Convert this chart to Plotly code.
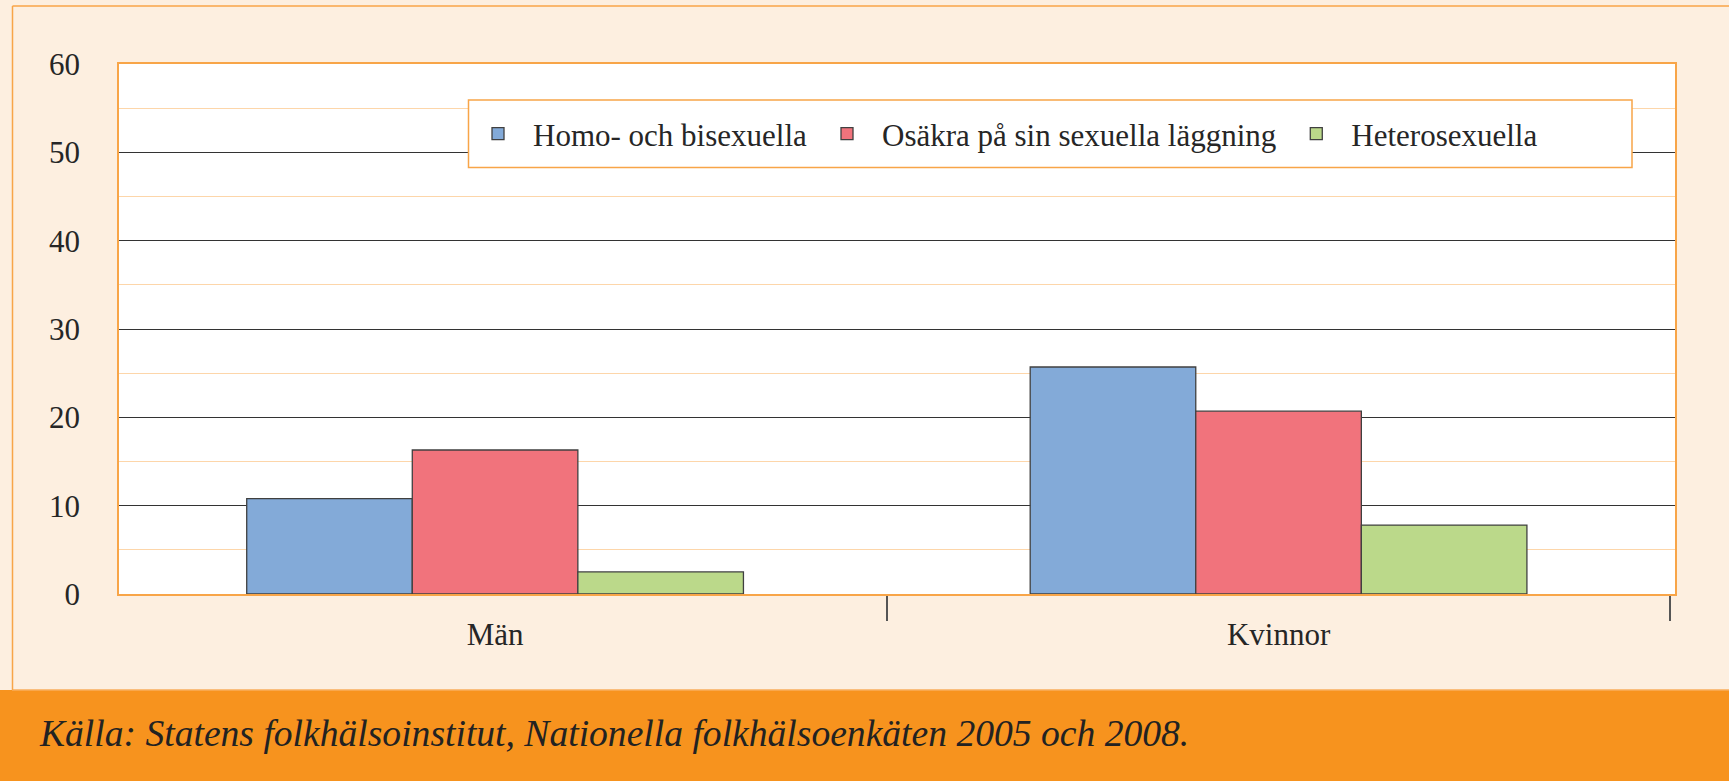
import plotly.graph_objects as go

# ---- data ----
categories = ["Män", "Kvinnor"]
series_names = ["Homo- och bisexuella", "Osäkra på sin sexuella läggning", "Heterosexuella"]
homo_bi = [10.8, 25.7]
osakra = [16.3, 20.7]
hetero = [2.5, 7.8]
y_tickvals = [0, 10, 20, 30, 40, 50, 60]
y_minor_vals = [5, 15, 25, 35, 45, 55]
source_text = "Källa: Statens folkhälsoinstitut, Nationella folkhälsoenkäten 2005 och 2008."

# ---- style ----
W, H = 1729, 781
L, R, T, B = 119, 54, 64, 187
CREAM = "#FDEFE0"
ORANGE_LINE = "#F8A548"
ORANGE_BAND = "#F7931E"
MINOR_GRID = "#FDD6AA"
TXT = "#262626"
FONT = "Liberation Serif"
colors = ["#83AAD8", "#F1737C", "#BBD98A"]

pw = W - L - R
ph = H - T - B


def px(x):
    return (x - L) / pw


def py(y):
    return (H - B - y) / ph


fig = go.Figure()
for name, vals, col in zip(series_names, [homo_bi, osakra, hetero], colors):
    fig.add_trace(go.Bar(
        x=categories, y=vals, name=name,
        marker=dict(color=col, line=dict(color="#404040", width=1.3)),
    ))

shapes = [
    # footer band
    dict(type="rect", xref="paper", yref="paper", x0=px(-5), x1=px(W + 5), y0=py(H + 5), y1=py(690),
         fillcolor=ORANGE_BAND, line=dict(width=0), layer="below"),
    dict(type="line", xref="paper", yref="paper", x0=px(12), x1=px(W + 5), y0=py(690), y1=py(690),
         line=dict(color="#F9AE5C", width=1.5), layer="below"),
    # outer frame
    dict(type="line", xref="paper", yref="paper", x0=px(12.5), x1=px(12.5), y0=py(690), y1=py(6),
         line=dict(color=ORANGE_LINE, width=1.5), layer="below"),
    dict(type="line", xref="paper", yref="paper", x0=px(12.5), x1=px(W + 5), y0=py(6), y1=py(6),
         line=dict(color=ORANGE_LINE, width=1.5), layer="below"),
    # legend box
    dict(type="rect", xref="paper", yref="paper", x0=px(468.5), x1=px(1632), y0=py(167.5), y1=py(100),
         fillcolor="white", line=dict(color=ORANGE_LINE, width=1.5), layer="above"),
]

fig.update_layout(
    width=W, height=H,
    margin=dict(l=L, r=R, t=T, b=B, pad=0),
    paper_bgcolor=CREAM,
    plot_bgcolor="white",
    barmode="group",
    bargap=0.366,
    bargroupgap=0,
    font=dict(family=FONT, size=31, color=TXT),
    showlegend=True,
    legend=dict(
        orientation="h", x=px(463), xanchor="left", y=py(134), yanchor="middle",
        bgcolor="rgba(0,0,0,0)", borderwidth=0, itemwidth=60,
        font=dict(family=FONT, size=31, color=TXT),
        traceorder="normal",
    ),
    modebar=dict(bgcolor="rgba(0,0,0,0)", color="rgba(0,0,0,0)", activecolor="rgba(0,0,0,0)"),
    xaxis=dict(
        type="category", range=[-0.48, 1.506],
        showgrid=False, zeroline=False,
        showline=True, linecolor=ORANGE_LINE, linewidth=1.5, mirror=True,
        ticks="outside", tickson="boundaries", ticklen=25, tickwidth=1.5, tickcolor="#555555",
        ticklabelstandoff=12,
        tickfont=dict(family=FONT, size=31, color=TXT),
    ),
    yaxis=dict(
        range=[0, 60], tickvals=y_tickvals,
        showgrid=True, gridcolor="#333333", gridwidth=1.3,
        zeroline=False,
        showline=True, linecolor=ORANGE_LINE, linewidth=1.5, mirror=True,
        ticks="", ticklabelstandoff=31,
        tickfont=dict(family=FONT, size=31, color=TXT),
        minor=dict(tickvals=y_minor_vals, showgrid=True, gridcolor=MINOR_GRID, gridwidth=1.3, ticks=""),
    ),
    yaxis2=dict(
        overlaying="y", side="left", range=[0, 60], tickvals=y_tickvals[1:-1],
        showgrid=False, zeroline=False, showline=False, showticklabels=False,
        ticks="outside", ticklen=18, tickwidth=1.3, tickcolor="#333333",
    ),
    shapes=shapes,
    annotations=[
        dict(text=source_text, xref="paper", yref="paper", x=px(37), y=py(747), xanchor="left",
             yanchor="bottom", yshift=-9, showarrow=False,
             font=dict(family=FONT, size=37.6, color="#222222", style="italic")),
    ],
)

fig.write_html(
    "out.html",
    post_script=(
        "document.body.style.margin='0';document.body.style.overflow='hidden';"
        "var s=document.createElement('style');"
        "s.textContent='.modebar-container{display:none !important;}';"
        "document.head.appendChild(s);"
    ),
)
